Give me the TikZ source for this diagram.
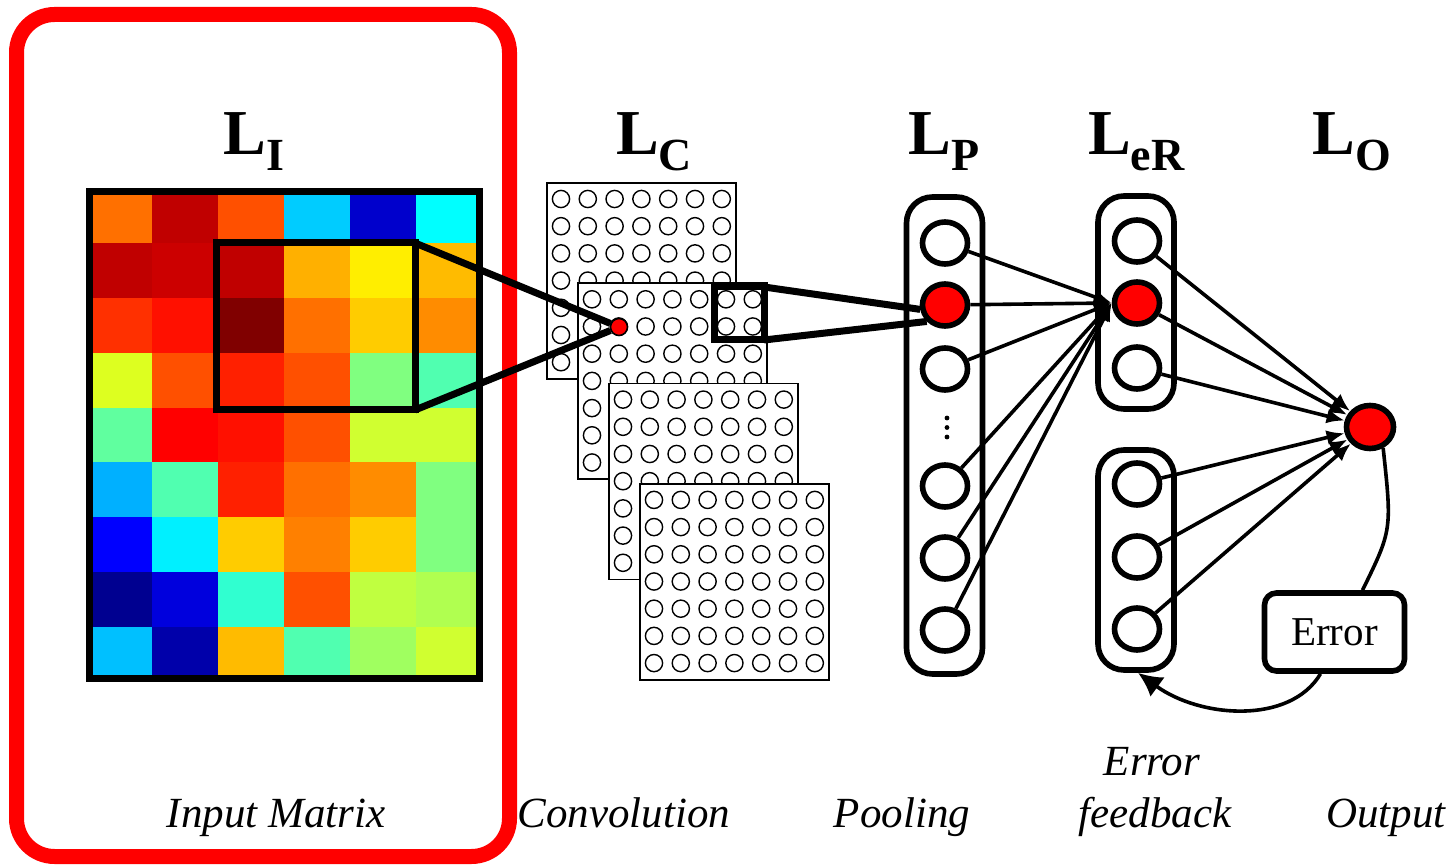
\documentclass[tikz,border=0pt]{standalone}
\usepackage{fontspec}
\setmainfont{Liberation Serif}
\usetikzlibrary{arrows.meta,calc,shapes.geometric}

\newcommand\layname[1]{\textbf{L}\raisebox{-8pt}{\fontsize{23}{23}\selectfont\textbf{#1}}}

\begin{document}
\begin{tikzpicture}[x=0.5pt,y=-0.5pt,
  neuron/.style={ellipse, draw, line width=2.8pt, fill=white,
    minimum width=22.5pt, minimum height=21pt, inner sep=0pt},
  active/.style={neuron, fill=red},
  layerbox/.style={draw, line width=2.8pt, rounded corners=13pt,
    minimum width=38pt, inner sep=0pt},
  window/.style={draw, line width=3.5pt, inner sep=0pt, outer sep=0pt},
  conn/.style={line width=1.8pt, -{Latex[length=9pt,width=7.5pt]}},
  thickline/.style={line width=3.5pt},
  title/.style={font=\fontsize{32}{38}\selectfont, anchor=base},
  caption/.style={font=\fontsize{21.5}{26}\selectfont\itshape, anchor=base},
]
\useasboundingbox (0,0) rectangle (1451,865);

% input layer
\draw[red, line width=7.5pt, rounded corners=19pt] (16.5,14.5) rectangle (509.5,856.5);
\foreach \row [count=\j from 0] in {
    {FF7000,C00000,FF5000,00CCFF,0000CC,00FFFF},
    {C00000,CC0000,C00000,FFB000,FFEE00,FFBB00},
    {FF3000,FF1000,800000,FF7000,FFCC00,FF8C00},
    {DDFF20,FF5000,FF2000,FF5000,80FF80,50FFB0},
    {60FF9F,FF0000,FF1000,FF5000,D0FF30,D0FF30},
    {00B0FF,50FFB0,FF2000,FF7000,FF8C00,80FF80},
    {0000FF,00F0FF,FFCC00,FF8000,FFCC00,80FF80},
    {000090,0000DD,30FFD0,FF5000,C0FF40,B0FF50},
    {00C0FF,0000AA,FFBB00,50FFB0,A0FF60,D0FF30}} {
  \foreach \c [count=\i from 0] in \row {
    \definecolor{cell}{HTML}{\c}
    \fill[cell] (86+66*\i,188.5+54.8*\j) rectangle ++(66,54.8);
  }
}
\draw[line width=3.5pt] (89.5,192) rectangle (479,678.5);
\node[window, minimum width=99.5pt, minimum height=83.5pt] (patch) at (315.5,326.5) {};

% convolution maps
\foreach \m in {0,...,3} {
  \filldraw[fill=white, line width=0.8pt] (547+31*\m,183+100.3*\m) rectangle ++(189,196);
  \foreach \i in {0,...,6}
    \foreach \j in {0,...,6}
      \draw[line width=0.7pt] (561+31*\m+26.8*\i,199+100.3*\m+27.2*\j) circle (4.3pt);
}
\node[circle, draw, fill=red, line width=0.8pt, minimum size=8.5pt, inner sep=0pt] (dotC) at (619,327) {};
\node[window, minimum width=25pt, minimum height=26.5pt] (win) at (739,313.5) {};

% layer boxes
\node[layerbox, minimum height=238.5pt] (boxP) at (944.5,435.5) {};
\node[layerbox, minimum height=106.5pt] (boxE) at (1136,302.5) {};
\node[layerbox, minimum height=110pt] (boxF) at (1136,560) {};

% neurons
\foreach \y/\s [count=\k] in {243/neuron,305/active,369/neuron,486/neuron,558/neuron,630/neuron}
  \node[\s] (p\k) at (945,\y) {};
\foreach \y in {418,427.5,437}
  \fill (947,\y) circle (1.2pt);
\foreach \y/\s [count=\k] in {241/neuron,303/active,368/neuron}
  \node[\s] (e\k) at (1137,\y) {};
\foreach \y [count=\k] in {484,557,629}
  \node[neuron] (f\k) at (1137,\y) {};
\node[active, minimum width=23.5pt, minimum height=21.5pt] (out) at (1370,427) {};
\node[draw, line width=2.8pt, rounded corners=6pt, minimum width=70pt, minimum height=39pt,
  inner sep=0pt, font=\fontsize{20.5}{24}\selectfont] (err) at (1334.5,632) {\raisebox{-2pt}{Error}};

% connections
\draw[thickline] (patch.north east) -- (dotC);
\draw[thickline] (patch.south east) -- (dotC);
\draw[thickline] (win.north east) -- (p2.190);
\draw[thickline] (win.south east) -- (p2.222);
\foreach \k in {1,...,6}
  \draw[conn] (p\k) -- (e2.west);
\foreach \n in {e1,e2,e3,f1,f2,f3}
  \draw[conn] (\n) -- (out);
\draw[line width=1.8pt] (out.-58) .. controls (1392,530) .. ($(err.north)+(28,0)$);
\draw[line width=1.8pt, -{Latex[length=12pt,width=12pt]}] ($(err.south)+(-14,0)$)
  .. controls (1290,725) and (1200,718) .. ([xshift=1pt]boxF.south);

% labels
\node[title] (tI) at (254,155) {\layname{I}};
\node[title] (tC) at (654,155) {\layname{C}};
\node[title] (tP) at (944,155) {\layname{P}};
\node[title] (tE) at (1136.5,155) {\layname{eR}};
\node[title] (tO) at (1352,155) {\layname{O}};
\node[caption] (cI) at (276,827) {Input Matrix};
\node[caption] (cC) at (624,827) {Convolution};
\node[caption] (cP) at (902,827) {Pooling};
\node[caption] (cE1) at (1152,775) {Error};
\node[caption] (cE2) at (1155,827) {feedback};
\node[caption] (cO) at (1386,827) {Output};
\end{tikzpicture}
\end{document}
